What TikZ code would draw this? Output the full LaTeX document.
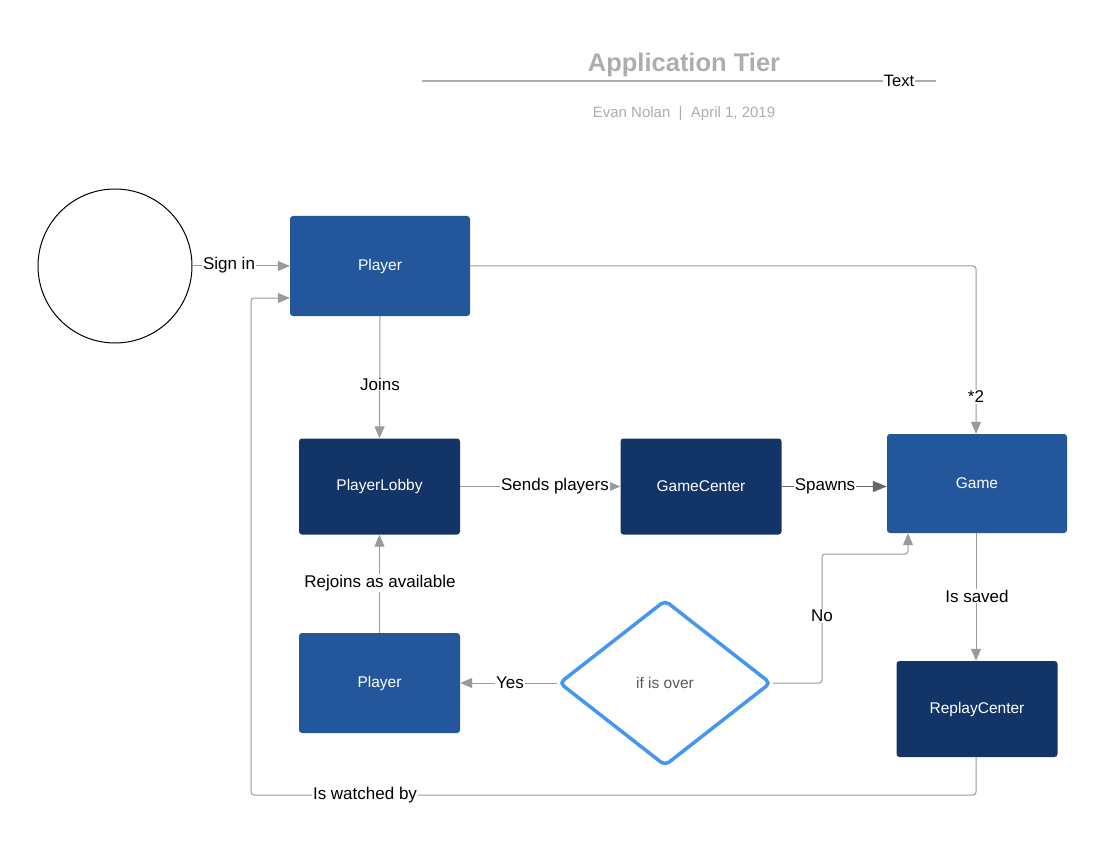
\documentclass[tikz,border=0pt]{standalone}
\usepackage{fontspec}
\setmainfont{Liberation Sans}
\usetikzlibrary{arrows.meta,shapes.geometric}
\definecolor{midblue}{HTML}{23569A}
\definecolor{navy}{HTML}{133467}
\definecolor{dblue}{HTML}{4596F0}
\definecolor{lgray}{HTML}{9A9A9A}
\definecolor{tgray}{HTML}{ADADAD}
\tikzset{
  box/.style={rectangle, rounded corners=3pt, draw=none, minimum width=#1, text=white, font=\fontsize{15.5}{17}\selectfont},
  box/.default=180pt,
  midbox/.style={box=180pt, fill=midblue, minimum height=100pt},
  navybox/.style={box=161pt, fill=navy, minimum height=96pt},
  conn/.style={draw=lgray, line width=1pt, -{Triangle[length=12pt,width=10pt]}, rounded corners=3pt},
  lbl/.style={fill=white, inner sep=1pt, text=black, font=\fontsize{17}{19}\selectfont},
}
\begin{document}
\begin{tikzpicture}[x=1pt,y=-1pt]
\useasboundingbox (0,0) rectangle (1106,845);
% title
\node[text=tgray, font=\bfseries\fontsize{25.5}{28}\selectfont] (title) at (684,65) {Application Tier};
\coordinate (tl) at (422,81);
\coordinate (tr) at (936,81);
\draw[draw=tgray, line width=1.5pt] (tl) -- (tr);
\node[fill=white, inner sep=1pt, font=\fontsize{16.5}{18}\selectfont] (txt) at (899,81) {Text};
\node[text=tgray, font=\fontsize{15}{17}\selectfont] (sub) at (684,113.5) {Evan Nolan~~|~~April 1, 2019};
% nodes
\node[circle, draw=black, line width=1pt, minimum size=154pt, inner sep=0pt] (start) at (115,266) {};
\node[midbox] (player) at (380,266) {Player};
\node[navybox] (lobby) at (379.5,486.5) {PlayerLobby};
\node[navybox] (gc) at (701,486.5) {GameCenter};
\node[midbox, minimum height=99pt] (game) at (977,483.5) {Game};
\node[midbox, minimum width=161pt] (player2) at (379.5,683) {Player};
\node[navybox] (replay) at (977,709) {ReplayCenter};
\node[diamond, draw=dblue, line width=3.5pt, rounded corners=5pt, minimum width=212pt, minimum height=166pt, inner sep=0pt, aspect=1.3, text=black!65, font=\fontsize{15.5}{17}\selectfont] (dec) at (665,683) {if is over};
% connectors
\draw[conn] (start.east) -- (player.west |- start.east);
\node[lbl] at (229,265) {Sign in};
\draw[conn] (player.east) -- (976,266) -- (game.north -| 976,0);
\node[lbl] at (976,397) {*2};
\draw[conn] (player.south) -- (lobby.north);
\node[lbl] at (380,384) {Joins};
\draw[conn] (lobby.east) -- (gc.west);
\node[lbl] at (555,486) {Sends players};
\draw[conn, draw=black!60, -{Triangle[length=14pt,width=11pt]}] (gc.east) -- (game.west |- gc.east);
\node[lbl] at (825,486) {Spawns};
\draw[conn] (game.south -| 976,0) -- (replay.north -| 976,0);
\node[lbl] at (977,596) {Is saved};
\draw[conn] (player2.north) -- (lobby.south);
\node[lbl] at (380,583) {Rejoins as available};
\draw[conn] (dec.west) -- (player2.east);
\node[lbl] at (510,683) {Yes};
\draw[conn] (dec.east) -- (822,683) -- (822,554) -- (908,554) -- (game.south -| 908,0);
\node[lbl] at (822,616) {No};
\draw[conn] (replay.south -| 976,0) -- (976,795) -- (251,795) -- (251,298) -- (player.west |- 0,298);
\node[lbl] at (365,795) {Is watched by};
\end{tikzpicture}
\end{document}
